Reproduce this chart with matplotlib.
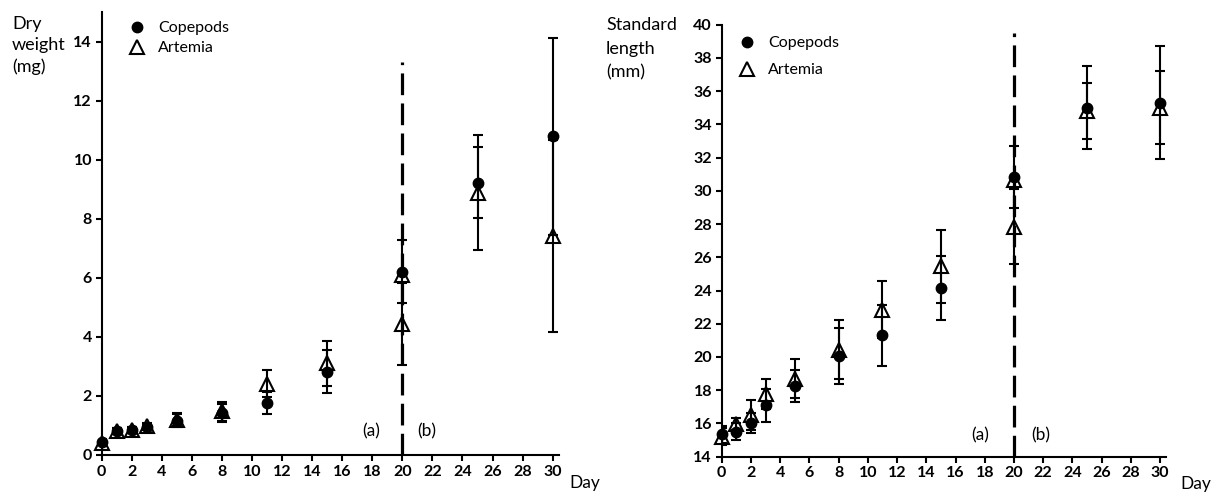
import matplotlib
matplotlib.use("Agg")
import matplotlib.pyplot as plt

plt.rcParams['font.family'] = ['Lato', 'DejaVu Sans']

# Sampling days
days = [0, 1, 2, 3, 5, 8, 11, 15, 20, 25, 30]

# Dry weight (mg), mean and error
dw_cop = [0.45, 0.80, 0.84, 0.95, 1.16, 1.43, 1.76, 2.82, 6.20, 9.22, 10.79]
dw_cop_err = [0.10, 0.10, 0.10, 0.10, 0.22, 0.31, 0.38, 0.72, 1.07, 1.21, 3.34]
dw_art = [0.40, 0.82, 0.86, 0.97, 1.20, 1.48, 2.42, 3.10, 4.44, 8.88, 7.42]
dw_art_err = [0.10, 0.10, 0.10, 0.10, 0.22, 0.32, 0.45, 0.75, 1.38, 1.95, 3.24]

# Standard length (mm), mean and error
sl_cop = [15.35, 15.50, 16.05, 17.10, 18.25, 20.05, 21.30, 24.15, 30.85, 35.00, 35.30]
sl_cop_err = [0.50, 0.50, 0.60, 1.00, 0.95, 1.70, 1.85, 1.90, 1.87, 2.50, 3.40]
sl_art = [15.20, 15.95, 16.50, 17.75, 18.70, 20.45, 22.85, 25.45, 27.85, 34.80, 35.00]
sl_art_err = [0.50, 0.35, 0.90, 0.90, 1.15, 1.80, 1.70, 2.20, 2.25, 1.70, 2.20]

# Artemia group (b) at the day-20 switch
switch_day = [20]
dw_art_b = [6.10]
sl_art_b = [30.65]

xticks = list(range(0, 31, 2))

fig = plt.figure(figsize=(12.16, 4.95), dpi=100)
ax1 = fig.add_axes([101.7 / 1216, 1 - 455 / 495, 457 / 1216, 443 / 495])
ax2 = fig.add_axes([721.7 / 1216, 1 - 456.7 / 495, 444.3 / 1216, 432.1 / 495])


def draw_panel(ax, cop, cop_err, art, art_err, art_b, ylim, yticks, dash_top):
    eb = dict(fmt='none', ecolor='black', elinewidth=1.5, capsize=3.6,
              capthick=1.5, zorder=2)
    ax.errorbar(days, cop, yerr=cop_err, **eb)
    ax.errorbar(days, art, yerr=art_err, **eb)
    ax.plot(days, cop, 'o', color='black', markersize=7.5, zorder=3,
            clip_on=False, label='Copepods')
    ax.plot(days, art, '^', markerfacecolor='none', markeredgecolor='black',
            markeredgewidth=1.5, markersize=9.5, zorder=4, clip_on=False,
            label='Artemia')
    ax.plot(switch_day, art_b, '^', markerfacecolor='none',
            markeredgecolor='black', markeredgewidth=1.5, markersize=9.5,
            zorder=4, clip_on=False)
    ax.plot([20, 20], [ylim[0], dash_top], color='black', linewidth=2.3,
            dashes=(6.8, 2.6), zorder=1, clip_on=False)

    ax.set_xlim(0, 30.4)
    ax.set_ylim(*ylim)
    ax.set_xticks(xticks)
    ax.set_yticks(yticks)
    for s in ('top', 'right'):
        ax.spines[s].set_visible(False)
    for s in ('left', 'bottom'):
        ax.spines[s].set_linewidth(1.5)
    ax.tick_params(direction='out', length=4, width=1.5, labelsize=11.5, pad=3)
    for lab in ax.get_xticklabels() + ax.get_yticklabels():
        lab.set_fontweight('bold')


draw_panel(ax1, dw_cop, dw_cop_err, dw_art, dw_art_err, dw_art_b,
           (0, 15), list(range(0, 15, 2)), 13.3)
draw_panel(ax2, sl_cop, sl_cop_err, sl_art, sl_art_err, sl_art_b,
           (14, 40), list(range(14, 41, 2)), 39.5)

# Phase labels either side of the switch
ax1.text(17.9, 0.8, '(a)', ha='center', va='center', fontsize=12.5)
ax1.text(21.6, 0.8, '(b)', ha='center', va='center', fontsize=12.5)
ax2.text(17.7, 15.3, '(a)', ha='center', va='center', fontsize=12.5)
ax2.text(21.8, 15.3, '(b)', ha='center', va='center', fontsize=12.5)

leg1 = ax1.legend(loc='upper left', bbox_to_anchor=(0.06, 0.979), frameon=False,
                  fontsize=11.5, handlelength=1.0, handletextpad=0.8,
                  labelspacing=0.35, borderpad=0, borderaxespad=0)
leg2 = ax2.legend(loc='upper left', bbox_to_anchor=(0.04, 0.973), frameon=False,
                  fontsize=11.5, handlelength=1.0, handletextpad=0.8,
                  labelspacing=0.8, borderpad=0, borderaxespad=0)

# Axis titles
fig.text(12 / 1216, 1 - 16 / 495, 'Dry\nweight\n(mg)', ha='left', va='top',
         fontsize=13, linespacing=1.4)
fig.text(606 / 1216, 1 - 17 / 495, 'Standard\nlength\n(mm)', ha='left', va='top',
         fontsize=13, linespacing=1.6)
fig.text(569 / 1216, 1 - 488 / 495, 'Day', ha='left', va='baseline', fontsize=12.5)
fig.text(1180 / 1216, 1 - 489 / 495, 'Day', ha='left', va='baseline', fontsize=12.5)

fig.savefig('out.png', dpi=100)
